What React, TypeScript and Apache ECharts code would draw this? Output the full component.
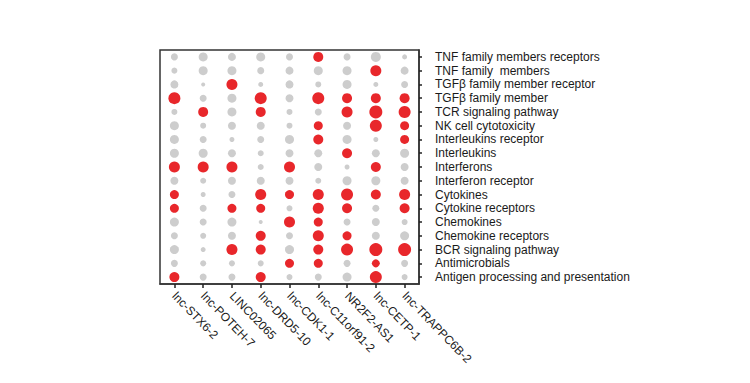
import React, { useEffect, useRef } from "react";
import * as echarts from "echarts";

const lncRNAs = [
  "lnc-STX6-2",
  "lnc-POTEH-7",
  "LINC02065",
  "lnc-DRD5-10",
  "lnc-CDK1-1",
  "lnc-C11orf91-2",
  "NR2F2-AS1",
  "lnc-CETP-1",
  "lnc-TRAPPC6B-2",
];

const pathways = [
  "TNF family members receptors",
  "TNF family  members",
  "TGFβ family member receptor",
  "TGFβ family member",
  "TCR signaling pathway",
  "NK cell cytotoxicity",
  "Interleukins receptor",
  "Interleukins",
  "Interferons",
  "Interferon receptor",
  "Cytokines",
  "Cytokine receptors",
  "Chemokines",
  "Chemokine receptors",
  "BCR signaling pathway",
  "Antimicrobials",
  "Antigen processing and presentation",
];

// relative dot size per pathway (row) x lncRNA (column)
const dotSize = [
  [0.7, 0.9, 0.8, 0.9, 0.7, 1.0, 0.7, 1.0, 0.5],
  [0.6, 0.9, 0.9, 0.7, 0.8, 0.9, 0.9, 1.1, 0.8],
  [0.8, 0.4, 1.1, 0.5, 0.8, 0.6, 0.9, 0.5, 0.7],
  [1.2, 0.7, 0.9, 1.2, 0.8, 1.2, 1.0, 1.0, 1.0],
  [0.6, 1.0, 0.9, 1.0, 0.6, 0.7, 1.1, 1.3, 1.2],
  [0.9, 0.6, 0.8, 0.8, 0.6, 0.9, 0.8, 1.2, 0.9],
  [0.9, 0.7, 0.5, 0.7, 0.9, 1.0, 0.9, 0.5, 0.9],
  [0.9, 0.9, 0.8, 0.6, 0.8, 0.8, 1.0, 0.8, 0.9],
  [1.1, 1.1, 1.1, 0.6, 1.1, 0.8, 0.5, 1.0, 0.8],
  [0.8, 0.6, 0.8, 0.8, 0.8, 0.6, 0.9, 0.9, 0.8],
  [0.9, 0.5, 0.7, 1.1, 0.9, 1.1, 1.2, 1.0, 1.1],
  [0.9, 0.7, 0.9, 0.9, 0.6, 1.1, 1.0, 0.7, 1.0],
  [0.9, 0.7, 0.9, 0.4, 1.1, 0.9, 0.7, 0.8, 0.6],
  [0.7, 0.6, 0.8, 1.0, 0.7, 1.1, 0.9, 0.8, 0.9],
  [0.9, 0.5, 1.1, 1.0, 0.9, 1.0, 1.2, 1.3, 1.3],
  [0.7, 0.6, 0.6, 0.6, 0.9, 0.9, 0.7, 0.8, 0.7],
  [1.0, 0.7, 0.7, 1.0, 0.6, 0.7, 0.9, 1.2, 0.6],
];

// 1 = significant (red), 0 = not significant (gray)
const significant = [
  [0, 0, 0, 0, 0, 1, 0, 0, 0],
  [0, 0, 0, 0, 0, 0, 0, 1, 0],
  [0, 0, 1, 0, 0, 0, 0, 0, 0],
  [1, 0, 0, 1, 0, 1, 1, 1, 1],
  [0, 1, 0, 1, 0, 0, 1, 1, 1],
  [0, 0, 0, 0, 0, 1, 0, 1, 1],
  [0, 0, 0, 0, 0, 1, 0, 0, 1],
  [0, 0, 0, 0, 0, 0, 1, 0, 0],
  [1, 1, 1, 0, 1, 0, 0, 1, 0],
  [0, 0, 0, 0, 0, 0, 0, 0, 0],
  [1, 0, 0, 1, 1, 1, 1, 1, 1],
  [1, 0, 1, 1, 0, 1, 1, 0, 1],
  [0, 0, 0, 0, 1, 1, 0, 0, 0],
  [0, 0, 0, 1, 0, 1, 1, 0, 0],
  [0, 0, 1, 1, 0, 1, 1, 1, 1],
  [0, 0, 0, 0, 1, 1, 0, 1, 0],
  [1, 0, 0, 1, 0, 0, 0, 1, 0],
];

const RED = "#e8272b";
const GRAY = "#cdcdcd";
const FONT = "'Liberation Sans', Arial, sans-serif";

export default function App() {
  const ref = useRef<HTMLDivElement>(null);

  useEffect(() => {
    if (!ref.current) return;
    const chart = echarts.init(ref.current, undefined, { renderer: "svg" });

    const sigData: any[] = [];
    const nsData: any[] = [];
    pathways.forEach((p, r) => {
      lncRNAs.forEach((l, c) => {
        const item = [l, p, dotSize[r][c]];
        if (significant[r][c]) sigData.push(item);
        else nsData.push(item);
      });
    });

    chart.setOption({
      animation: false,
      backgroundColor: "#ffffff",
      grid: {
        left: 160,
        top: 50,
        width: 259,
        height: 234,
        show: true,
        borderColor: "#333333",
        borderWidth: 1.5,
        backgroundColor: "transparent",
      },
      xAxis: {
        type: "category",
        data: lncRNAs,
        position: "bottom",
        axisLine: { show: true, lineStyle: { color: "#333333", width: 1.5 } },
        axisTick: {
          show: true,
          alignWithLabel: true,
          inside: false,
          length: 4,
          lineStyle: { color: "#222222", width: 1.5 },
        },
        axisLabel: {
          rotate: -46,
          margin: 10,
          fontSize: 12,
          fontFamily: FONT,
          color: "#1a1a1a",
          interval: 0,
        },
        splitLine: { show: false },
      },
      yAxis: {
        type: "category",
        data: pathways,
        inverse: true,
        position: "right",
        axisLine: { show: true, lineStyle: { color: "#333333", width: 1.5 } },
        axisTick: {
          show: true,
          alignWithLabel: true,
          inside: false,
          length: 3,
          lineStyle: { color: "#222222", width: 1.5 },
        },
        axisLabel: {
          margin: 16,
          fontSize: 12,
          fontFamily: FONT,
          color: "#1a1a1a",
          interval: 0,
        },
        splitLine: { show: false },
      },
      series: [
        {
          name: "not significant",
          type: "scatter",
          data: nsData,
          symbolSize: (v: any) => v[2] * 10,
          itemStyle: { color: GRAY, opacity: 1 },
          z: 2,
        },
        {
          name: "significant",
          type: "scatter",
          data: sigData,
          symbolSize: (v: any) => v[2] * 10,
          itemStyle: { color: RED, opacity: 1 },
          z: 3,
        },
      ],
    });

    return () => chart.dispose();
  }, []);

  return (
    <div
      ref={ref}
      style={{ position: "fixed", left: 0, top: 0, width: 750, height: 383 }}
    />
  );
}
